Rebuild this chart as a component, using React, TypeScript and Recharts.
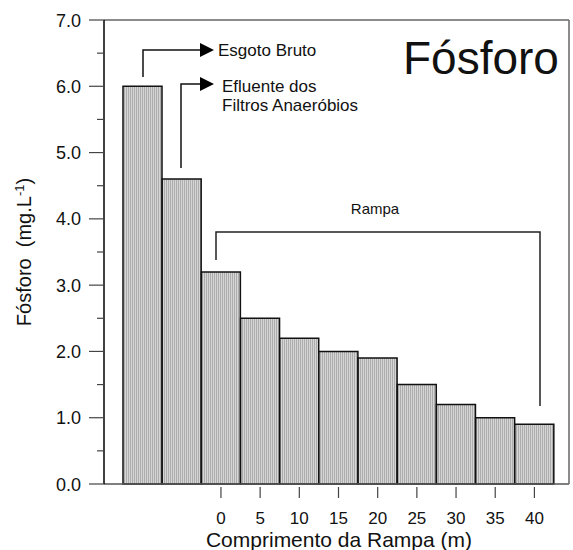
import React from 'react';
import { BarChart, Bar, XAxis, YAxis, ReferenceLine } from 'recharts';

const categories = ['Esgoto Bruto', 'Filtros Anaeróbios', '0', '5', '10', '15', '20', '25', '30', '35', '40'];
const phosphorus = [6.0, 4.6, 3.2, 2.5, 2.2, 2.0, 1.9, 1.5, 1.2, 1.0, 0.9];
const yTicks = [0, 0.5, 1, 1.5, 2, 2.5, 3, 3.5, 4, 4.5, 5, 5.5, 6, 6.5, 7];

const data = categories.map((cat, i) => ({ cat, v: phosphorus[i] }));

const FONT = '"Liberation Sans", Arial, Helvetica, sans-serif';
const TICK_COLOR = '#444';

const YTick = ({ x, y, payload }: any) => {
  const major = Number.isInteger(payload.value);
  return (
    <g>
      <line x1={x - (major ? 15 : 7)} x2={x} y1={y} y2={y} stroke={TICK_COLOR} strokeWidth={1.2} />
      {major && (
        <text x={x - 23} y={y + 6.5} textAnchor="end" fontSize={18} fontFamily={FONT} fill="#111">
          {payload.value.toFixed(1)}
        </text>
      )}
    </g>
  );
};

const XTick = ({ x, y, payload }: any) => {
  if (isNaN(Number(payload.value))) return <g />;
  return (
    <g>
      <line x1={x} x2={x} y1={y + 3} y2={y + 14} stroke={TICK_COLOR} strokeWidth={1.2} />
      <text x={x} y={y + 40} textAnchor="middle" fontSize={17} fontFamily={FONT} fill="#111">
        {payload.value}
      </text>
    </g>
  );
};

const Annotations = () => (
  <svg
    width={573}
    height={550}
    style={{ position: 'absolute', left: 0, top: 0, pointerEvents: 'none' }}
    fontFamily={FONT}
  >
    {/* Esgoto Bruto arrow */}
    <polyline points="143,77 143,50 201,50" fill="none" stroke="#111" strokeWidth={1.5} />
    <polygon points="200,43 214,50 200,57" fill="#000" />
    <text x={218} y={56} fontSize={17} fill="#111">Esgoto Bruto</text>

    {/* Efluente arrow */}
    <polyline points="181,168 181,84 201,84" fill="none" stroke="#111" strokeWidth={1.5} />
    <polygon points="200,77 214,84 200,91" fill="#000" />
    <text x={222} y={92} fontSize={17} fill="#111">Efluente dos</text>
    <text x={222} y={111} fontSize={17} fill="#111">Filtros Anaeróbios</text>

    {/* Rampa bracket */}
    <polyline points="216,260 216,232 540,232 540,406" fill="none" stroke="#222" strokeWidth={1.5} />
    <text x={375} y={214} fontSize={15} textAnchor="middle" fill="#111">Rampa</text>

    <text x={403} y={74} fontSize={46} fill="#111">Fósforo</text>

    <text x={339} y={547} fontSize={21} textAnchor="middle" fill="#111">Comprimento da Rampa (m)</text>
    <text x={31} y={252} fontSize={20} textAnchor="middle" fill="#111" transform="rotate(-90 31 252)" xmlSpace="preserve">
      {'Fósforo  (mg.L'}<tspan dy={-7} fontSize={13}>-1</tspan><tspan dy={7}>)</tspan>
    </text>
  </svg>
);

export default function App() {
  return (
    <div style={{ position: 'absolute', left: 0, top: 0, width: 573, height: 550, background: '#fff' }}>
      <BarChart
        width={573}
        height={550}
        data={data}
        margin={{ top: 20, right: 0, bottom: 0, left: 0 }}
        barCategoryGap={0}
        barGap={0}
      >
        <defs>
          <pattern id="hatch" width={2} height={4} patternUnits="userSpaceOnUse">
            <rect x={0} y={0} width={2} height={4} fill="#d6d6d6" />
            <rect x={0} y={0} width={1} height={4} fill="#acacac" />
          </pattern>
        </defs>
        <XAxis
          dataKey="cat"
          height={66}
          padding={{ left: 19, right: 15 }}
          axisLine={{ stroke: '#555', strokeWidth: 1.5 }}
          tickLine={false}
          tickSize={0}
          tickMargin={0}
          interval={0}
          tick={<XTick />}
        />
        <YAxis
          yAxisId="left"
          width={104}
          domain={[0, 7]}
          ticks={yTicks}
          interval={0}
          axisLine={{ stroke: '#000', strokeWidth: 1.5 }}
          tickLine={false}
          tickSize={0}
          tickMargin={0}
          tick={<YTick />}
        />
        <YAxis
          yAxisId="right"
          orientation="right"
          width={4}
          domain={[0, 7]}
          tick={false}
          tickLine={false}
          axisLine={{ stroke: '#666', strokeWidth: 1.5 }}
        />
        <ReferenceLine yAxisId="left" y={7} stroke="#666" strokeWidth={1.5} />
        <Bar
          yAxisId="left"
          dataKey="v"
          fill="url(#hatch)"
          stroke="#111"
          strokeWidth={1.5}
          isAnimationActive={false}
        />
      </BarChart>
      <Annotations />
    </div>
  );
}
